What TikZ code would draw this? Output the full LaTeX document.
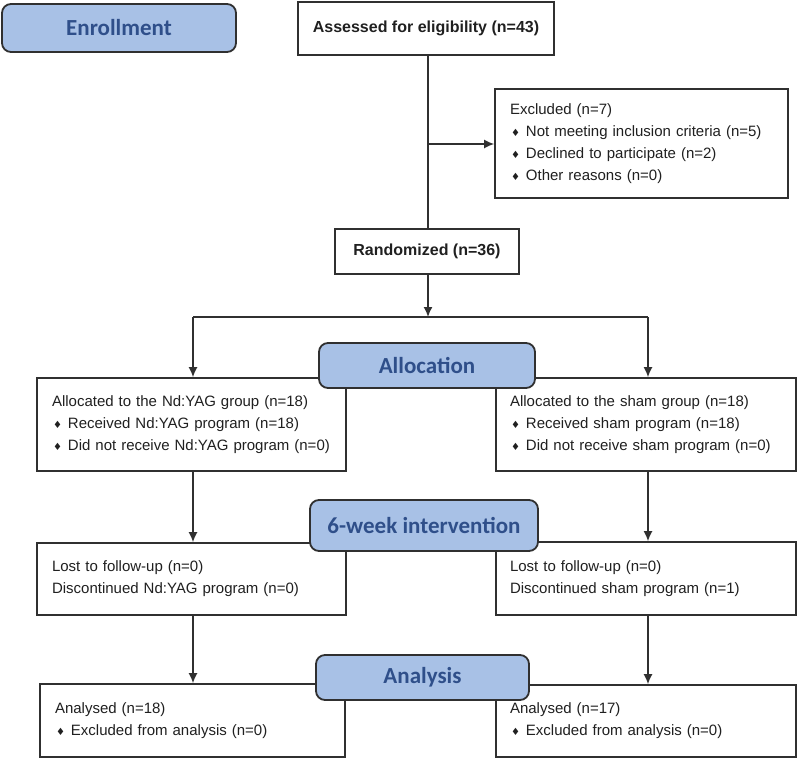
\documentclass[tikz,border=0pt]{standalone}
\usepackage{fontspec}
\setmainfont{Liberation Sans}
\newfontfamily\hdfont{Carlito}
\newfontfamily\symfont{DejaVu Sans}
\usetikzlibrary{arrows.meta}
\definecolor{hdfill}{HTML}{A8C1E6}
\definecolor{hdtext}{HTML}{2F4F8A}
\definecolor{edge}{HTML}{303030}
\definecolor{txt}{HTML}{202020}
\newcommand{\bul}{\hspace{1pt}{\symfont\fontsize{10}{10}\selectfont ♦}\hspace{6pt}}
\begin{document}
\begin{tikzpicture}[x=1pt,y=-1pt,
  hd/.style={draw=edge, line width=1.8pt, fill=hdfill, rounded corners=9pt, text=hdtext,
    font=\hdfont\bfseries\fontsize{23}{23}\selectfont, inner sep=0pt},
  cb/.style={draw=edge, line width=1.6pt, fill=white, inner sep=0pt, text=txt,
    font=\bfseries\fontsize{16}{16}\selectfont},
  bx/.style={draw=edge, line width=1.6pt, fill=white, inner xsep=15pt, inner ysep=0pt,
    align=left, text=txt, font=\fontsize{15}{22}\selectfont},
  con/.style={draw=edge, line width=1.6pt},
  arr/.style={con, -{Latex[length=10pt,width=9pt]}}
]
\fill[white] (0,0) rectangle (800,761);
\useasboundingbox (0,0) rectangle (800,761);

% nodes
\node[hd, minimum width=234pt, minimum height=48pt] (enr) at (119,28) {Enrollment};
\node[cb, minimum width=256pt, minimum height=53pt] (assess) at (426,28.5) {Assessed for eligibility (n=43)};
\node[bx, text width=263pt, minimum height=109pt] (excl) at (641.5,143.5)
  {Excluded (n=7)\\\bul Not meeting inclusion criteria (n=5)\\\bul Declined to participate (n=2)\\\bul Other reasons (n=0)};
\node[cb, minimum width=184pt, minimum height=45pt] (rand) at (427,251.5) {Randomized (n=36)};

\node[bx, text width=279pt, minimum height=93pt] (la) at (191.5,424.5)
  {Allocated to the Nd:YAG group (n=18)\\\bul Received Nd:YAG program (n=18)\\\bul Did not receive Nd:YAG program (n=0)};
\node[bx, text width=272pt, inner xsep=14pt, minimum height=93pt] (ra) at (646,424.5)
  {Allocated to the sham group (n=18)\\\bul Received sham program (n=18)\\\bul Did not receive sham program (n=0)};
\node[hd, minimum width=216pt, minimum height=45pt] (alloc) at (427,365.5) {Allocation};

\node[bx, text width=279pt, minimum height=72pt] (lf) at (191.5,579)
  {Lost to follow-up (n=0)\\Discontinued Nd:YAG program (n=0)};
\node[bx, text width=272pt, inner xsep=14pt, minimum height=73pt] (rf) at (646,578.5)
  {Lost to follow-up (n=0)\\Discontinued sham program (n=1)};
\node[hd, minimum width=228pt, minimum height=51pt] (six) at (424,525.5) {6-week intervention};

\node[bx, text width=275pt, minimum height=73pt] (ln) at (192.5,720.5)
  {Analysed (n=18)\\\bul Excluded from analysis (n=0)};
\node[bx, text width=272pt, inner xsep=14pt, minimum height=72pt] (rn) at (646,721)
  {Analysed (n=17)\\\bul Excluded from analysis (n=0)};
\node[hd, minimum width=213pt, minimum height=45pt] (ana) at (422.5,677.5) {Analysis};

% connector points
\coordinate (j1) at (428,144);
\coordinate (sp) at (428,317);
\coordinate (cl) at (193,317);
\coordinate (cr) at (648,317);

% connectors
\draw[con] (j1 |- assess.south) -- (j1 |- rand.north);
\draw[arr] (j1) -- (j1 -| excl.west);
\draw[arr] (sp |- rand.south) -- (sp);
\draw[con] (cl) -- (cr);
\draw[arr] (cl) -- (cl |- la.north);
\draw[arr] (cr) -- (cr |- ra.north);
\draw[arr] (cl |- la.south) -- (cl |- lf.north);
\draw[arr] (cr |- ra.south) -- (cr |- rf.north);
\draw[arr] (cl |- lf.south) -- (cl |- ln.north);
\draw[arr] (cr |- rf.south) -- (cr |- rn.north);
\end{tikzpicture}
\end{document}
